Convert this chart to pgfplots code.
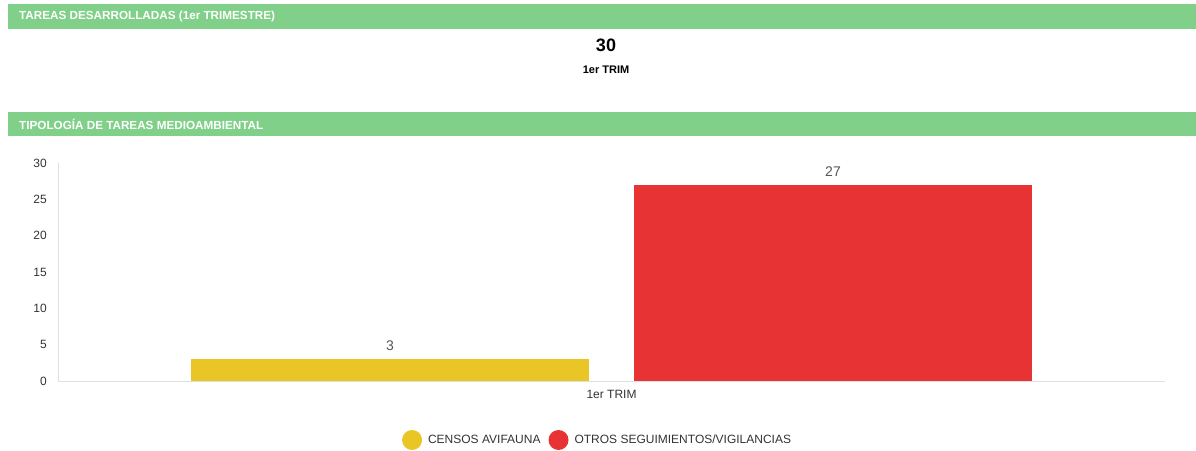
\documentclass[border=0pt]{standalone}
\usepackage{pgfplots}
\pgfplotsset{compat=1.18}
\usepackage{fontspec}
\setmainfont{Liberation Sans}
\definecolor{banner}{RGB}{129,208,138}
\definecolor{censos}{RGB}{233,197,38}
\definecolor{otros}{RGB}{232,51,53}
\definecolor{axisgrey}{RGB}{224,224,224}
\definecolor{txt}{RGB}{51,51,51}
\definecolor{valtxt}{RGB}{85,85,85}

\begin{document}
\begin{tikzpicture}[x=1pt,y=1pt]
\useasboundingbox (0,0) rectangle (1196,-450);
% banners
\fill[banner] (8,-4) rectangle (1196,-29);
\node[anchor=west,text=white,font=\fontsize{11.7}{14}\selectfont\bfseries,inner sep=0] at (19,-16.5) {TAREAS DESARROLLADAS (1er TRIMESTRE)};
\node[font=\fontsize{18}{20}\selectfont\bfseries,text=black,inner sep=0] at (606,-45) {30};
\node[font=\fontsize{11}{13}\selectfont\bfseries,text=black,inner sep=0] at (606,-70) {1er TRIM};
\fill[banner] (8,-112) rectangle (1196,-136);
\node[anchor=west,text=white,font=\fontsize{11.7}{14}\selectfont\bfseries,inner sep=0] at (19,-124) {TIPOLOGÍA DE TAREAS MEDIOAMBIENTAL};

\begin{axis}[
    at={(58pt,-381pt)}, anchor=south west,
    scale only axis,
    width=1107pt, height=218pt,
    xmin=-1, xmax=1, ymin=0, ymax=30,
    enlargelimits=false,
    clip=false,
    ybar=45pt, bar width=398pt,
    axis lines=left,
    axis line style={draw=axisgrey, line width=1pt, -},
    major tick length=0pt,
    xtick={0}, xticklabels={1er TRIM},
    ytick={0,5,...,30},
    /pgf/number format/assume math mode=true,
    tick label style={font=\fontsize{12}{14}\selectfont, text=txt, inner sep=0pt},
    yticklabel style={anchor=east, xshift=-11pt},
    xticklabel style={anchor=north, yshift=-9pt},
    nodes near coords,
    every node near coord/.append style={font=\fontsize{14}{16}\selectfont, text=valtxt, inner sep=0pt, anchor=south, yshift=8pt},
    legend image code/.code={\fill[#1] (0pt,0pt) circle (10pt);},
    legend style={at={(0.4874,-0.2706)}, anchor=center, draw=none, fill=none,
        legend columns=2, font=\fontsize{12}{14}\selectfont, text=txt,
        /tikz/every even column/.append style={column sep=6pt},
        /tikz/every odd column/.append style={column sep=4pt}},
]
\addplot[fill=censos, draw=none] coordinates {(0,3)};
\addlegendentry{CENSOS AVIFAUNA}
\addplot[fill=otros, draw=none] coordinates {(0,27)};
\addlegendentry{OTROS SEGUIMIENTOS/VIGILANCIAS}
\end{axis}
\end{tikzpicture}
\end{document}
